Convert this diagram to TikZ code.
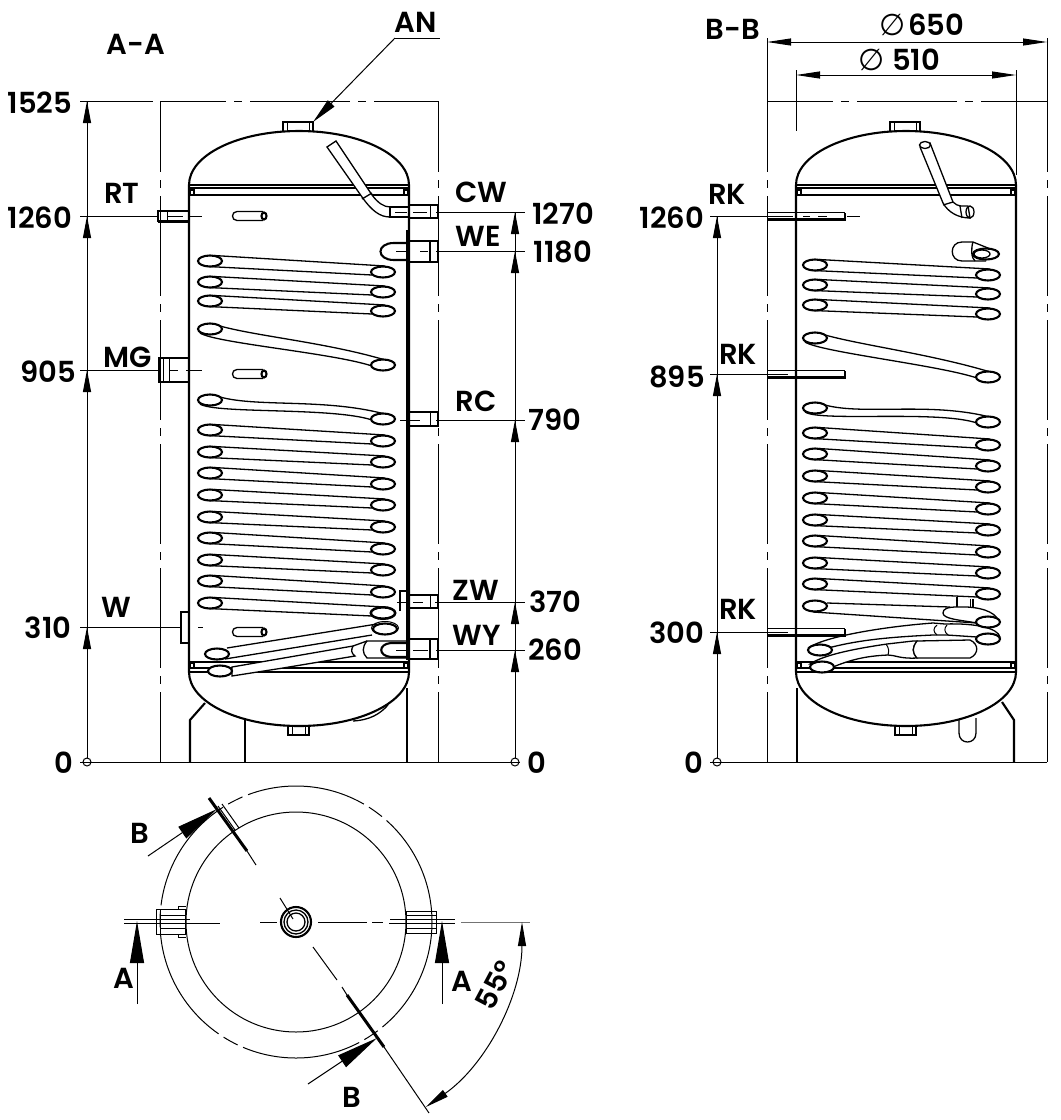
\documentclass[tikz,border=0pt]{standalone}
\usepackage{fontspec}
\newfontfamily\drawfont{Poppins SemiBold}
\newfontfamily\symfont{DejaVu Sans}
\usetikzlibrary{arrows.meta,positioning,calc}
\tikzset{
  heavy/.style={line width=2.1pt},
  medium/.style={line width=1.3pt},
  fine/.style={line width=1pt},
  phantom/.style={line width=1pt, dash pattern=on 100pt off 8pt on 8pt off 8pt},
  dimline/.style={line width=1pt},
  dimtip/.style={-{Triangle[length=22pt,width=8pt]}, line width=1pt},
  dimboth/.style={{Triangle[length=24pt,width=7pt]}-{Triangle[length=24pt,width=7pt]}, line width=1pt},
  cuttip/.style={-{Triangle[length=42pt,width=14pt]}, line width=1pt},
  leadtip/.style={-{Triangle[length=26pt,width=9pt]}, line width=1pt},
  lab/.style={font=\drawfont\fontsize{29}{29}\selectfont, inner sep=0pt, text=black},
  symlab/.style={font=\symfont\fontsize{30}{30}\selectfont, inner sep=0pt, text=black},
  coilend/.style={heavy, fill=white, x radius=12, y radius=5.5},
}
% one straight coil turn: left x, left y, right x, right y
\newcommand{\coilturn}[4]{
  \draw[medium] ({#1+4},{#2-5.5}) -- ({#3+2},{#4-6});
  \draw[medium] ({#1-2},{#2+5.5}) -- ({#3-11},{#4+3});
  \draw[coilend] (#1,#2) circle[];
  \draw[coilend] (#3,#4) circle[];
}
% one curved coil turn, same arguments
\newcommand{\coilbend}[4]{
  \draw[medium] ({#1+10},{#2-3}) .. controls ({#1+50},{#2+8}) and ({#3-50},{#4-22}) .. ({#3+12},{#4-2});
  \draw[medium] ({#1-10},{#2+4}) .. controls ({#1+5},{#2+14}) and ({#3-50},{#4-12}) .. ({#3-11},{#4+1});
  \draw[coilend] (#1,#2) circle[];
  \draw[coilend] (#3,#4) circle[];
}
% pipe end with a small box at its free end: left x, right x, top y, bottom y
\newcommand{\stubbox}[4]{
  \draw[medium] (#1,#3) rectangle (#2,#4);
}
\newcommand{\tankshell}{
  \draw[heavy] (189,672) -- (189,185) .. controls (189,155) and (238,131) .. (299,131)
    .. controls (360,131) and (409,155) .. (409,185) -- (409,672);
  \draw[heavy] (189,672) .. controls (189,702) and (238,726) .. (299,726)
    .. controls (360,726) and (409,702) .. (409,672);
  \draw[medium] (189,185) -- (409,185);
  \draw[medium] (189,188) -- (409,188);
  \draw[heavy] (189,195) -- (409,195);
  \draw[heavy] (189,662) -- (409,662);
  \draw[medium] (189,668) -- (409,668);
  \draw[heavy] (189,672) -- (409,672);
  \foreach \xc in {190,404} {
    \draw[medium] (\xc,190) rectangle ({\xc+4},195);
    \draw[medium] (\xc,663) rectangle ({\xc+4},668);
  }
  \draw[medium] (283,131) -- (283,122) -- (313,122) -- (313,131);
  \draw[fine] (287,122) -- (287,131);
  \draw[fine] (309,122) -- (309,131);
  \draw[medium] (288,727) -- (288,735) -- (309,735) -- (309,727);
  \draw[fine] (292,727) -- (292,735);
  \draw[fine] (305,727) -- (305,735);
}
\begin{document}
\begin{tikzpicture}[x=1pt,y=-1pt]
\useasboundingbox (0,0) rectangle (1061,1120);
\tankshell
\draw[phantom, dash phase=29pt] (160,101) -- (160,762);
\draw[phantom, dash phase=29pt] (438,101) -- (438,762);
\draw[phantom, dash phase=34pt] (160,101) -- (438,101);
% coil of the A-A view
\foreach \yl/\yr in {261/272,282/292,301/311,430/441,452/462,473/484,495/505,517/527,538/549,560/570,581/592,603/613}
  {\coilturn{210}{\yl}{383}{\yr}}
\coilbend{210}{329}{383}{365}
\coilbend{210}{400}{383}{419}
% lower return of the coil
\draw[medium, fill=white] (232,667) -- (353,646) .. controls (351,650) and (351,653) .. (355,656) -- (283,668) -- (232,676) -- cycle;
\draw[medium] (227,648) -- (377,624);
\draw[medium] (225,659) -- (372,635);
\draw[medium] (353,646) -- (367,641);
\draw[medium, fill=white] (409,641) -- (367,641) .. controls (362,647) and (362,653) .. (367,658) -- (409,658);
\draw[fine] (383,613) ellipse[x radius=13, y radius=6.5];
\draw[fine] (385,628) ellipse[x radius=13.5, y radius=6.5];
\draw[coilend] (385,629) circle[];
\draw[coilend] (217,654) circle[];
\draw[coilend] (220,671) circle[];
\draw[heavy] (409,643) -- (391,643) .. controls (378,644) and (378,656) .. (391,657) -- (409,657);
% inlet tube up in the dome
\draw[medium, fill=white] (327,147) -- (336,141) -- (372,195) .. controls (378,203) and (384,207) .. (390,207)
  -- (390,217) .. controls (380,217) and (372,211) .. (362,197) -- cycle;
\draw[medium] (372,193) -- (362,199);
\draw[medium] (390,207) rectangle (409,217);
% wall liner
\draw[medium] (407,230) -- (407,660);
% outlets of the A-A view
\stubbox{158}{189}{211}{221}
\draw[heavy] (158,222) -- (189,222);
\draw[fine] (167,211) -- (167,221);
\stubbox{159}{189}{358}{382}
\draw[fine] (169,358) -- (169,382);
\draw[fine] (163,358) -- (163,382);
\stubbox{181}{189}{612}{643}
\stubbox{409}{438}{205}{218}
\draw[fine] (430,205) -- (430,218);
\stubbox{409}{438}{241}{262}
\draw[medium] (430,241) -- (430,262);
\draw[heavy] (409,243) -- (394,243) .. controls (376,243) and (376,260) .. (394,260) -- (409,260);
\stubbox{409}{438}{412}{426}
\draw[fine] (430,412) -- (430,426);
\stubbox{409}{438}{595}{608}
\draw[fine] (430,595) -- (430,608);
\draw[heavy] (400,611) -- (400,591) -- (409,591);
\stubbox{409}{438}{639}{659}
\draw[medium] (430,639) -- (430,659);
% anodes
\foreach \ya in {216,374,632} {
  \draw[medium] (263,{\ya-4.5}) -- (237,{\ya-4.5}) .. controls (231,{\ya-4.5}) and (231,{\ya+4.5}) .. (237,{\ya+4.5}) -- (263,{\ya+4.5});
  \draw[heavy] (264,\ya) circle[x radius=2.5, y radius=3.5];
}
% legs of the A-A view
\draw[heavy] (205,703) -- (190,720) -- (190,762);
\draw[heavy] (245,720) -- (245,762);
\draw[heavy] (407,688) -- (407,762);
\draw[medium] (353,721) .. controls (370,720) and (380,714) .. (388,705);
% dimension lines of the A-A view
\draw[dimline] (80,762) -- (520,762);
\draw[dimline] (87,762) circle[radius=4];
\draw[dimline] (515,762) circle[radius=4];
\draw[dimline] (80,101) -- (153,101);
\draw[dimline] (87,758) -- (87,101);
\foreach \yd in {627,370,216,101}
  \draw[dimtip] (87,{\yd+40}) -- (87,\yd);
\draw[dimline] (80,216) -- (158,216);
\draw[dimline] (168,216) -- (183,216);
\draw[dimline] (189,216) -- (202,216);
\draw[dimline] (80,370) -- (159,370);
\draw[dimline] (170,370) -- (178,370);
\draw[dimline] (186,370) -- (202,370);
\draw[dimline] (80,627) -- (182,627);
\draw[dimline] (198,627) -- (203,627);
\draw[dimline] (515,758) -- (515,212);
\foreach \yd in {650,602,420,251,212}
  \draw[dimtip] (515,{\yd+40}) -- (515,\yd);
\draw[dimline] (395,212) -- (407,212);
\draw[dimline] (413,212) -- (427,212);
\draw[dimline] (436,212) -- (525,212);
\draw[dimline] (396,251) -- (408,251);
\draw[dimline] (420,251) -- (428,251);
\draw[dimline] (436,251) -- (525,251);
\draw[dimline] (400,420) -- (420,420);
\draw[dimline] (436,420) -- (525,420);
\draw[dimline] (397,602) -- (408,602);
\draw[dimline] (413,602) -- (423,602);
\draw[dimline] (435,602) -- (525,602);
\draw[dimline] (396,650) -- (408,650);
\draw[dimline] (413,650) -- (428,650);
\draw[dimline] (436,650) -- (525,650);
% leader of the top nozzle
\draw[leadtip] (395,38) -- (313,122);
\draw[dimline] (395,38) -- (440,38);

% B-B view
\begin{scope}[xshift=607pt]
\tankshell
\draw[heavy] (190,688) -- (190,762);
\draw[heavy] (395,702) -- (407,720) -- (407,762);
\draw[medium] (352,720) -- (352,733) .. controls (352,745) and (369,745) .. (369,733) -- (369,718);
\end{scope}
\draw[phantom, dash phase=29pt] (767,101) -- (767,762);
\draw[phantom, dash phase=29pt] (1047,101) -- (1047,762);
\draw[phantom, dash phase=34pt] (767,101) -- (1047,101);
\foreach \yl/\yr in {265/275,285/294,305/314,433/445,454/466,476/487,498/509,520/530,541/552,563/573,584/594}
  {\coilturn{815}{\yl}{988}{\yr}}
\coilbend{815}{338}{988}{377}
\coilbend{815}{408}{988}{422}
% lower return of the coil, B-B
\draw[medium] (957,597) -- (957,607);
\draw[medium] (973,599) -- (973,608);
\draw[fine] (970,599) -- (970,608);
\draw[medium] (827,603) -- (950,607);
\draw[medium] (813,612) -- (977,623);
\draw[medium, fill=white] (957,607) .. controls (980,606) and (995,612) .. (998,620)
  -- (977,623) .. controls (960,620) and (943,619) .. (943,613) .. controls (943,609) and (947,607) .. (957,607);
\draw[medium, fill=white] (810,647) .. controls (825,637) and (880,627) .. (933,623) -- (945,624)
  .. controls (975,623) and (998,628) .. (1000,637) -- (977,637) -- (947,635) -- (933,635)
  .. controls (890,637) and (860,640) .. (832,647) -- cycle;
\draw[fine] (937,625) .. controls (933,628) and (933,632) .. (937,635);
\draw[fine] (947,625) .. controls (944,628) and (944,632) .. (948,635);
\draw[medium, fill=white] (810,664) .. controls (825,654) and (860,648) .. (887,644) -- (913,641) -- (917,641)
  .. controls (912,648) and (912,652) .. (917,658) .. controls (900,659) and (895,655) .. (888,655)
  .. controls (865,656) and (850,660) .. (833,667) -- cycle;
\draw[fine] (886,644) .. controls (889,648) and (889,651) .. (888,655);
\draw[medium, fill=white] (917,641) -- (970,640) .. controls (979,644) and (979,654) .. (970,658) -- (917,658)
  .. controls (912,652) and (912,648) .. (917,641);
\draw[coilend] (988,622) circle[];
\draw[coilend] (988,639) circle[];
\draw[coilend] (815,606) circle[];
\draw[coilend] (820,650) circle[];
\draw[coilend] (822,667) circle[];
% inlet tube up in the dome, B-B
\draw[medium, fill=white] (920,147) -- (943,203) .. controls (948,212) and (958,218) .. (970,218)
  -- (968,206) .. controls (962,206) and (958,207) .. (953,202) -- (930,143) -- cycle;
\draw[medium] (943,205) -- (953,202);
\draw[medium] (960,206) -- (962,218);
\draw[medium, fill=white] (925,145) circle[x radius=5.5, y radius=3.5];
\draw[medium] (970,212) circle[x radius=4, y radius=6];
% WE connection seen from the side
\draw[medium] (973,242) -- (962,242) .. controls (949,242) and (949,261) .. (962,261) -- (986,261);
\draw[medium] (973,242) -- (998,252);
\draw[medium] (973,242) .. controls (971,248) and (971,258) .. (975,261);
\draw[coilend] (986,254) circle[x radius=13, y radius=5.5];
\draw[medium] (982,254) circle[x radius=8, y radius=4];
% outlets of the B-B view
\foreach \yo in {216,374,632} {
  \draw[medium] (767,{\yo-3.5}) -- (845,{\yo-3.5});
  \draw[heavy] (767,{\yo+3.5}) -- (845,{\yo+3.5}) -- (845,{\yo-3.5});
}
% dimension lines of the B-B view
\draw[dimline] (710,762) -- (1047,762);
\draw[dimline] (717,762) circle[radius=4];
\draw[dimline] (717,758) -- (717,216);
\foreach \yd in {632,374,216}
  \draw[dimtip] (717,{\yd+40}) -- (717,\yd);
\draw[dimline] (710,216) -- (793,216);
\draw[dimline] (803,216) -- (810,216);
\draw[dimline] (818,216) -- (827,216);
\draw[dimline] (847,216) -- (860,216);
\draw[dimline] (710,374) -- (788,374);
\draw[dimline] (710,632) -- (788,632);
\draw[dimline] (767,38) -- (767,101);
\draw[dimline] (1047,38) -- (1047,101);
\draw[dimline] (796,70) -- (796,131);
\draw[dimline] (1016,70) -- (1016,175);
\draw[dimboth] (767,42) -- (1047,42);
\draw[dimboth] (796,75) -- (1016,75);

% top view
\coordinate (hub) at (296,922);
\draw[fine] (hub) circle[radius=110];
\draw[line width=1pt, dash pattern=on 120pt off 6pt on 16pt off 6pt] (hub) circle[radius=136];
\draw[dimline] (124,923) -- (220,923);
\draw[dimline] (260,922) -- (277,922);
\draw[dimline] (318,922) -- (367,922);
\draw[dimline] (372,922) -- (383,922);
\draw[dimline] (389,923) -- (455,923);
\draw[heavy, fill=white] (hub) circle[radius=15];
\draw[medium] (hub) circle[radius=12];
\draw[medium] (hub) circle[radius=9];
\draw[medium] (124,919.5) -- (190,919.5);
\draw[medium] (390,919.5) -- (455,919.5);
\draw[fine] (156,909) rectangle (185,934);
\draw[fine] (178,909) -- (178,906) -- (186,906);
\draw[fine] (178,934) -- (178,937) -- (186,937);
\draw[fine] (160,915) -- (185,915);
\draw[fine] (160,928) -- (185,928);
\draw[fine] (160,909) -- (160,934);
\draw[fine] (406,911) rectangle (436,933);
\draw[fine] (406,915) -- (436,915);
\draw[fine] (406,928) -- (436,928);
\draw[cuttip] (137,1004) -- (137,921);
\draw[cuttip] (442,1004) -- (442,921);
% section line B-B
\draw[line width=3pt] (209,798) -- (247,851);
\draw[dimline] (247,851) -- (256,865);
\draw[fine] (218,806) -- (235,830);
\draw[fine] (222,804) -- (239,828);
\draw[dimline] (280,898) -- (293,919);
\draw[dimline] (313,947) -- (337,980);
\draw[dimline] (342,987) -- (347,995);
\draw[line width=3pt] (347,995) -- (384,1047);
\draw[dimline] (384,1047) -- (429,1113);
\draw[cuttip] (148,856) -- (217,809);
\draw[cuttip] (308,1084) -- (377,1038);
% angle dimension
\draw[line width=1pt, black!55] (461,922) -- (530,922);
\draw[{Triangle[length=24pt,width=8pt]}-{Triangle[length=24pt,width=8pt]}, line width=1pt]
  (522,922) arc[start angle=0, end angle=55, radius=226];

% labels
\node[lab] (labAA) at (136,44) {A-A};
\node[lab] (labAN) at (416,22) {AN};
\node[lab] (labBB) at (733,29) {B-B};
\node[symlab] (labDiaA) at (893,25) {∅};
\node[lab] (labDiaB) at (936,25) {650};
\node[symlab] (labDiaC) at (872,60) {∅};
\node[lab] (labDiaD) at (916,60) {510};
\foreach \name/\px/\py/\txt in {
  hA/40/103/1525, rt/122/193/RT, hB/40/218/1260, mg/128/357/MG, hC/48/372/905,
  w/116/607/W, hD/48/628/310, hE/64/763/0,
  cw/481/192/CW, hF/563/214/1270, we/478/236/WE, hG/563/252/1180,
  rc/476/401/RC, hH/555/420/790, zw/476/590/ZW, hI/555/602/370,
  wy/477/635/WY, hJ/555/650/260, hK/537/763/0,
  rkA/727/194/RK, hL/672/218/1260, rkB/738/354/RK, hM/677/377/895,
  rkC/738/609/RK, hN/677/633/300, hO/694/763/0,
  cutA/124/978/A, cutB/462/981/A, cutC/140/833/B, cutD/352/1097/B}
  \node[lab] (lab\name) at (\px,\py) {\txt};
\node[lab, rotate=62] (labAngle) at (495,985) {55°};
\end{tikzpicture}
\end{document}
